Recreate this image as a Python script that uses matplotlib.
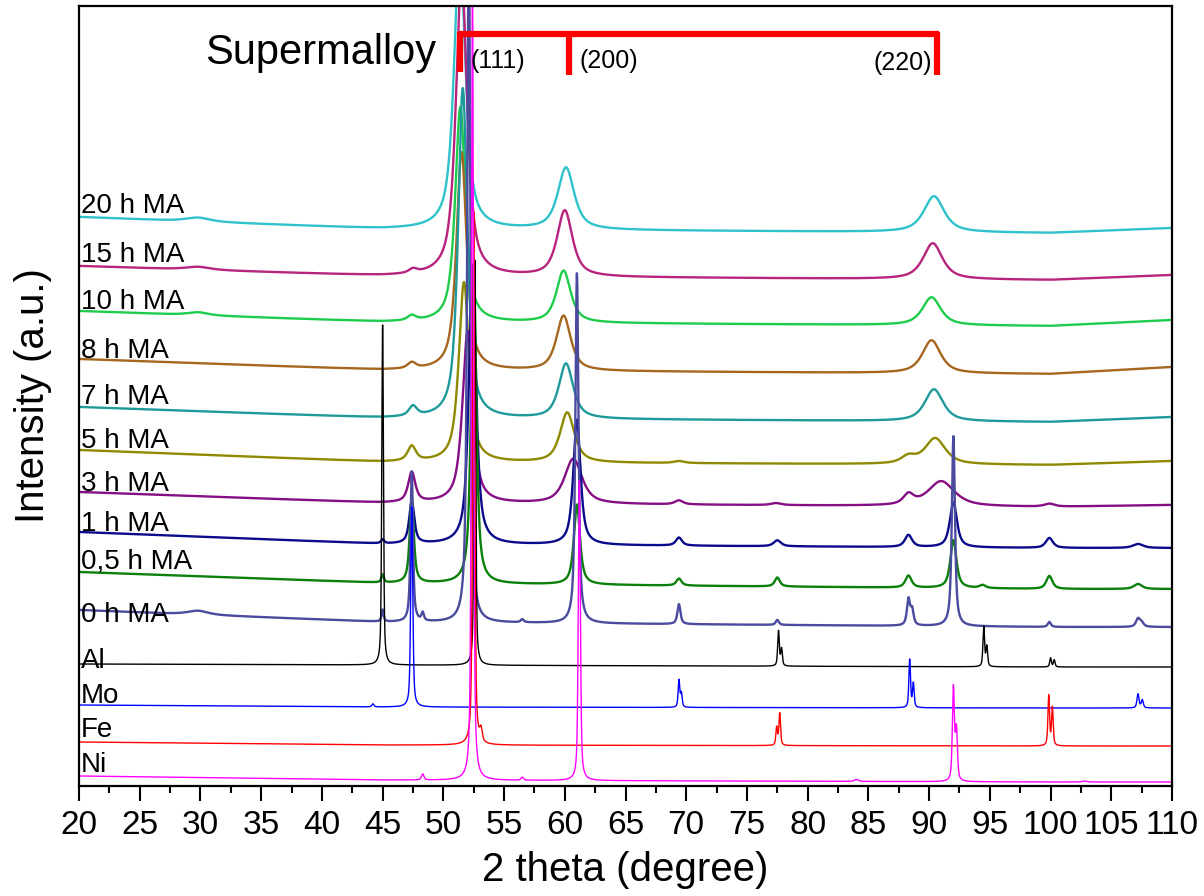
import numpy as np
import matplotlib
matplotlib.use('Agg')
import matplotlib.pyplot as plt
from matplotlib.ticker import MultipleLocator

plt.rcParams['font.family'] = ['Liberation Sans', 'DejaVu Sans']

# sample names, top to bottom
labels = ['20 h MA', '15 h MA', '10 h MA', '8 h MA', '7 h MA', '5 h MA', '3 h MA',
          '1 h MA', '0,5 h MA', '0 h MA', 'Al', 'Mo', 'Fe', 'Ni']
colors = ['#2FC2CB', '#B8237E', '#1ECC4C', '#A5661E', '#1F9A9A', '#8E8A00', '#850E85',
          '#0A0A8C', '#0B800B', '#4A4A9E', '#000000', '#0000FF', '#FF0000', '#FF00FF']

# background level (a.u.) read at 2theta = 20, 45, 100, 110
bg_x = [20, 45, 100, 110]
bg_20h = [571, 559, 555, 560]
bg_15h = [522, 512, 508, 513]
bg_10h = [477, 466, 462, 468]
bg_8h = [429, 418, 414, 421]
bg_7h = [381, 370, 366, 371]
bg_5h = [338, 326, 323, 327]
bg_3h = [296, 285, 281, 283]
bg_1h = [256, 244, 240, 240]
bg_05h = [216, 205, 199, 199]
bg_0h = [178, 166, 161, 161]
bg_al = [124, 123, 121, 121]
bg_mo = [83, 81, 80, 80]
bg_fe = [46, 43, 42, 42]
bg_ni = [12, 8, 6, 6]

# peaks: (2theta, height, half width)
pk_20h = [(29.8, 4, 1.2), (51.35, 280, 0.55), (60.1, 62, 0.8), (90.4, 36, 1.0)]
pk_15h = [(29.8, 3, 1.2), (47.5, 4, 0.4), (51.5, 300, 0.55), (60.0, 66, 0.75), (90.3, 36, 0.95)]
pk_10h = [(29.8, 3, 1.0), (47.4, 5, 0.4), (51.4, 215, 0.5), (59.9, 52, 0.7), (90.2, 28, 0.9)]
pk_8h = [(47.4, 6, 0.4), (51.5, 218, 0.5), (59.9, 55, 0.7), (90.2, 33, 0.9)]
pk_7h = [(47.5, 10, 0.4), (51.6, 330, 0.45), (60.1, 55, 0.7), (90.4, 32, 0.9)]
pk_5h = [(47.4, 15, 0.4), (51.7, 180, 0.5), (60.2, 50, 0.7), (69.4, 2, 0.5),
         (88.3, 7, 0.7), (90.5, 26, 1.0)]
pk_3h = [(47.4, 30, 0.35), (52.0, 172, 0.5), (60.7, 45, 0.85), (69.4, 4, 0.4),
         (77.4, 2, 0.5), (88.3, 10, 0.5), (91.0, 25, 1.3), (99.9, 3, 0.5)]
pk_1h = [(45.0, 4, 0.15), (47.4, 42, 0.25), (52.4, 277, 0.35), (61.0, 125, 0.35),
         (69.4, 8, 0.3), (77.5, 6, 0.35), (88.3, 12, 0.35), (92.0, 45, 0.35),
         (99.9, 10, 0.35), (107.2, 4, 0.5)]
pk_05h = [(45.0, 8, 0.12), (47.4, 85, 0.2), (52.5, 320, 0.25), (61.0, 80, 0.3),
          (69.4, 7, 0.25), (77.5, 9, 0.25), (88.3, 12, 0.3), (92.0, 48, 0.3),
          (94.4, 3, 0.3), (99.9, 13, 0.3), (107.2, 5, 0.4)]
pk_0h = [(29.8, 4, 1.0), (45.0, 12, 0.1), (47.4, 150, 0.12), (48.3, 8, 0.12),
         (52.1, 700, 0.15), (56.5, 3, 0.15), (61.0, 350, 0.15), (69.4, 20, 0.15),
         (77.5, 5, 0.15), (88.3, 26, 0.15), (88.6, 15, 0.15), (92.0, 190, 0.15),
         (99.9, 5, 0.15), (107.2, 8, 0.2), (107.5, 4, 0.2)]
pk_al = [(45.0, 340, 0.08), (52.6, 405, 0.08), (77.6, 35, 0.08), (77.85, 17, 0.08),
         (94.5, 40, 0.08), (94.75, 20, 0.08), (100.0, 9, 0.08), (100.3, 7, 0.08)]
pk_mo = [(44.2, 3, 0.1), (47.4, 200, 0.1), (69.4, 27, 0.08), (69.6, 14, 0.08),
         (88.4, 48, 0.08), (88.7, 24, 0.08), (107.2, 14, 0.1), (107.55, 8, 0.1)]
pk_fe = [(52.5, 533, 0.1), (53.1, 12, 0.12), (77.45, 18, 0.08), (77.7, 32, 0.08),
         (99.85, 50, 0.08), (100.15, 38, 0.08)]
pk_ni = [(48.3, 6, 0.12), (52.4, 800, 0.1), (56.5, 3, 0.12), (61.2, 300, 0.1),
         (84.0, 2, 0.2), (92.0, 93, 0.1), (92.25, 50, 0.1), (102.8, 1, 0.2)]

backgrounds = [bg_20h, bg_15h, bg_10h, bg_8h, bg_7h, bg_5h, bg_3h,
               bg_1h, bg_05h, bg_0h, bg_al, bg_mo, bg_fe, bg_ni]
peaks = [pk_20h, pk_15h, pk_10h, pk_8h, pk_7h, pk_5h, pk_3h,
         pk_1h, pk_05h, pk_0h, pk_al, pk_mo, pk_fe, pk_ni]

# supermalloy reflections
hkl = ['(111)', '(200)', '(220)']
hkl_pos = [51.4, 60.35, 90.65]


def pattern(x, bg, pk, eta):
    y = np.interp(x, bg_x, bg)
    for c, h, w in pk:
        u = ((x - c) / w) ** 2
        y = y + h * (eta / (1 + u) + (1 - eta) * np.exp(-np.log(2) * u))
    return y


x = np.linspace(20, 110, 9001)

fig = plt.figure(figsize=(12.04, 8.96), dpi=100)
ax = fig.add_axes([79 / 1204, 110 / 896, 1093 / 1204, 780 / 896])

label_dy = [4, 4, 2, 1, 3, 2, 1, 1, 4, -12, -4, 2, 5, 4]
for i in range(len(labels)):
    milled = i < 10
    lw = 1.7 if milled else 1.0
    eta = 0.75 if milled else 0.55
    ax.plot(x, pattern(x, backgrounds[i], peaks[i], eta), color=colors[i], lw=lw)
    ax.text(20.15, backgrounds[i][0] + label_dy[i], labels[i], fontsize=20,
            va='baseline', ha='left')

# reference bracket
red = '#FF0000'
ax.plot([hkl_pos[0] - 0.15, hkl_pos[-1] + 0.2], [754, 754], color=red, lw=4.5,
        solid_capstyle='butt')
for p, top in zip(hkl_pos, [716, 713, 713]):
    ax.plot([p, p], [756, top], color=red, lw=4.5, solid_capstyle='butt')
ax.text(hkl_pos[0] + 0.8, 720, hkl[0], fontsize=18, ha='left', va='baseline')
ax.text(hkl_pos[1] + 0.9, 720, hkl[1], fontsize=18, ha='left', va='baseline')
ax.text(hkl_pos[2] - 0.4, 718, hkl[2], fontsize=18, ha='right', va='baseline')
ax.text(30.4, 724, 'Supermalloy', fontsize=30, ha='left', va='baseline')

ax.set_xlim(20, 110)
ax.set_ylim(2, 782)
ax.xaxis.set_major_locator(MultipleLocator(5))
ax.xaxis.set_minor_locator(MultipleLocator(2.5))
ax.tick_params(axis='x', which='major', direction='out', length=11, width=1.5,
               labelsize=24, pad=6)
ax.tick_params(axis='x', which='minor', direction='out', length=5, width=1.5)
ax.set_yticks([])
for s in ax.spines.values():
    s.set_linewidth(1.6)

ax.set_xlabel('2 theta (degree)', fontsize=29)
ax.xaxis.set_label_coords(0.5, -0.083)
ax.set_ylabel('Intensity (a.u.)', fontsize=29)
ax.yaxis.set_label_coords(-0.025, 0.5)

fig.savefig('out.png', dpi=100)
